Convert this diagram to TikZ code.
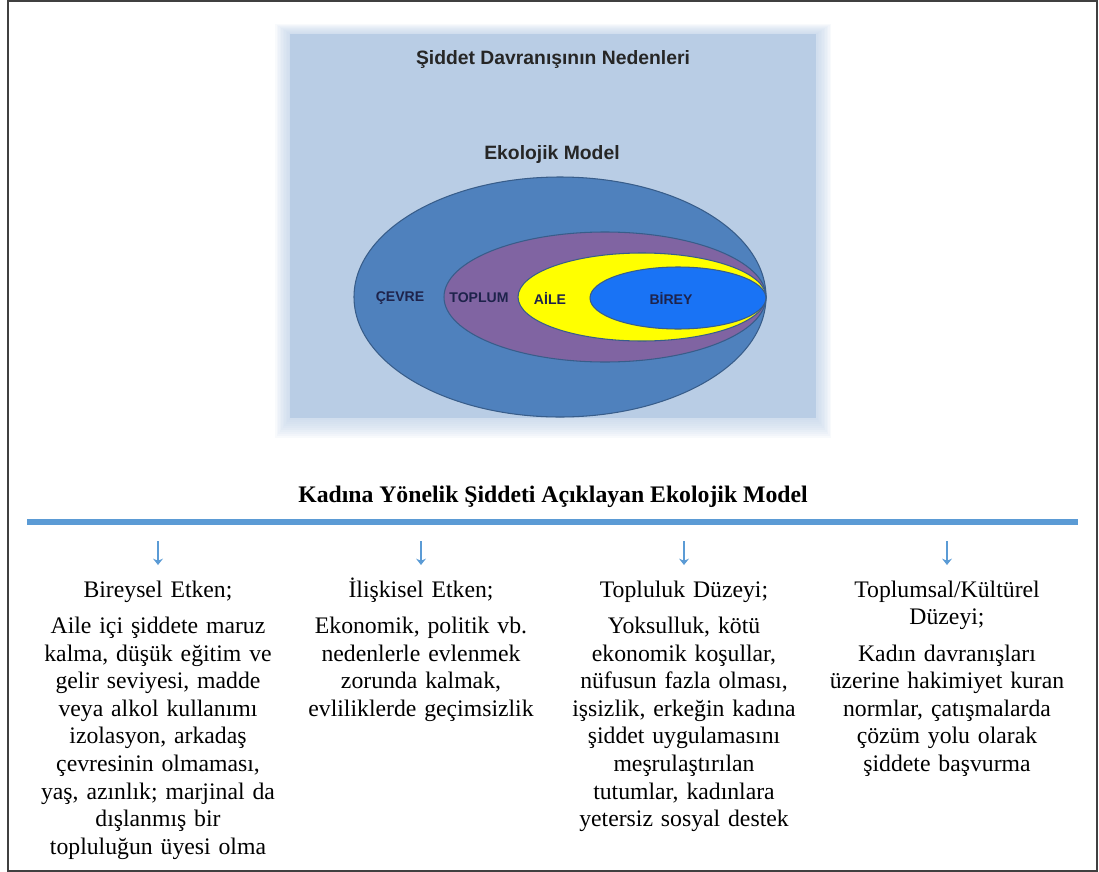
\documentclass[tikz,border=0pt]{standalone}
\usepackage{fontspec}
\setmainfont{Liberation Serif}
\newfontfamily\arialfont{Liberation Sans}
\usetikzlibrary{arrows.meta}
\definecolor{boxblue}{RGB}{185,205,229}
\definecolor{ringouter}{RGB}{79,129,189}
\definecolor{ringpurple}{RGB}{128,100,162}
\definecolor{ringyellow}{RGB}{255,255,0}
\definecolor{ringinner}{RGB}{25,115,245}
\definecolor{ringedge}{RGB}{56,93,138}
\definecolor{labelnavy}{RGB}{30,35,75}
\definecolor{barblue}{RGB}{91,155,213}
\tikzset{
  ring/.style={draw=ringedge, line width=0.6pt},
  ringlabel/.style={font=\arialfont\bfseries\fontsize{8}{9}\selectfont, text=labelnavy, inner sep=0pt},
  imgtitle/.style={font=\arialfont\bfseries\fontsize{11}{13}\selectfont, text=black!85, inner sep=0pt},
  levelbox/.style={font=\fontsize{13.5}{15.7}\selectfont, text width=5cm, align=center,
    inner sep=0pt, anchor=base},
  downarrow/.style={-{Stealth[length=3.6pt,width=5.6pt]}, barblue, line width=0.8pt}
}
\begin{document}
\begin{tikzpicture}[x=0.02cm, y=-0.02cm]
  \useasboundingbox (0,0) rectangle (1099,872);
  \draw[black!75, line width=0.8pt] (8,1) rectangle (1097,871);

  % the model picture with its soft edge
  \foreach \k in {1,...,10}
    \fill[boxblue, opacity=0.1] (290-1.5*\k,34-\k) rectangle (816+1.5*\k,418+2*\k);
  \fill[boxblue] (290,34) rectangle (816,418);

  \node[imgtitle] (reasons) at (553,60) {Şiddet Davranışının Nedenleri};
  \node[imgtitle] (model) at (552,155) {Ekolojik Model};

  \filldraw[ring, fill=ringouter] (560,297) ellipse [x radius=206, y radius=120];
  \filldraw[ring, fill=ringpurple] (605,297) ellipse [x radius=161, y radius=65];
  \filldraw[ring, fill=ringyellow] (642,297) ellipse [x radius=124, y radius=44];
  \filldraw[ring, fill=ringinner] (678,298) ellipse [x radius=88, y radius=31];

  \node[ringlabel] (cevre) at (400,298) {ÇEVRE};
  \node[ringlabel] (toplum) at (479,298) {TOPLUM};
  \node[ringlabel] (aile) at (550,298) {AİLE};
  \node[ringlabel] (birey) at (671,298) {BİREY};

  % caption and rule
  \node[font=\bfseries\fontsize{13.5}{16}\selectfont, inner sep=0pt] (caption) at (553,497)
    {Kadına Yönelik Şiddeti Açıklayan Ekolojik Model};
  \draw[barblue, line width=3.4pt] (27,522) -- (1078,522);

  \foreach \cx [count=\i] in {158,421,684,947} {
    \coordinate (top\i) at (\cx,541);
    \coordinate (tip\i) at (\cx,565);
    \draw[downarrow] (top\i) -- (tip\i);
  }

  % the four levels
  \node[levelbox] (head1) at (158,597) {Bireysel Etken;};
  \node[levelbox] (body1) at (158,633.5) {Aile içi şiddete maruz\\ kalma, düşük eğitim ve\\ gelir seviyesi, madde\\
    veya alkol kullanımı\\ izolasyon, arkadaş\\ çevresinin olmaması,\\ yaş, azınlık; marjinal da\\
    dışlanmış bir\\ topluluğun üyesi olma};

  \node[levelbox] (head2) at (421,597) {İlişkisel Etken;};
  \node[levelbox] (body2) at (421,633.5) {Ekonomik, politik vb.\\ nedenlerle evlenmek\\ zorunda kalmak,\\
    evliliklerde geçimsizlik};

  \node[levelbox] (head3) at (684,597) {Topluluk Düzeyi;};
  \node[levelbox] (body3) at (684,633.5) {Yoksulluk, kötü\\ ekonomik koşullar,\\ nüfusun fazla olması,\\
    işsizlik, erkeğin kadına\\ şiddet uygulamasını\\ meşrulaştırılan\\ tutumlar, kadınlara\\
    yetersiz sosyal destek};

  \node[levelbox] (head4) at (947,597) {Toplumsal/Kültürel\\ Düzeyi;};
  \node[levelbox] (body4) at (947,661) {Kadın davranışları\\ üzerine hakimiyet kuran\\ normlar, çatışmalarda\\
    çözüm yolu olarak\\ şiddete başvurma};
\end{tikzpicture}
\end{document}
